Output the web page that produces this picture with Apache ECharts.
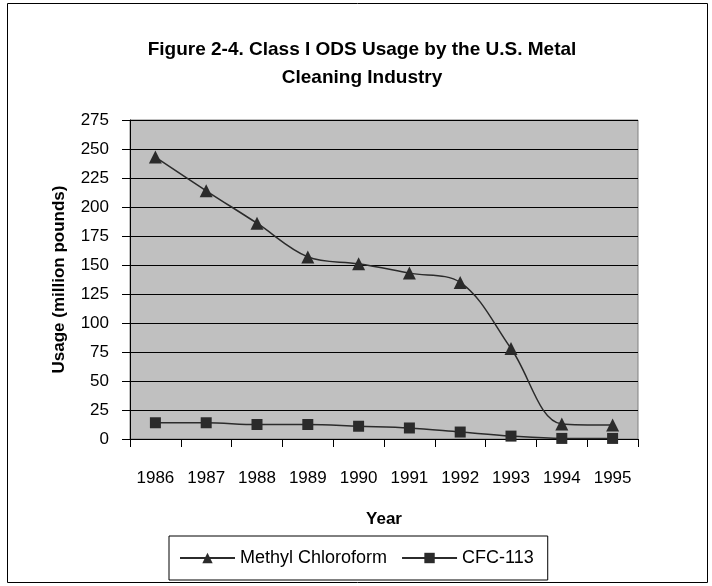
<!DOCTYPE html>
<html>
<head>
<meta charset="utf-8">
<script src="https://cdn.jsdelivr.net/npm/echarts@6/dist/echarts.min.js"></script>
<style>
  html, body { margin: 0; padding: 0; background: #fff; }
  #chart { width: 712px; height: 586px; }
</style>
</head>
<body>
<div id="chart"></div>
<script>
// values
const years = ['1986', '1987', '1988', '1989', '1990', '1991', '1992', '1993', '1994', '1995'];
const methylChloroform = [243, 214, 186, 157, 151, 143, 135, 78, 13, 12];
const cfc113 = [14, 14, 12.5, 12.5, 11, 9.5, 6, 2.5, 0.5, 0.5];
const yTicks = [0, 25, 50, 75, 100, 125, 150, 175, 200, 225, 250, 275];

const font = '"Liberation Sans", Arial, sans-serif';
const ink = '#2b2b2b';

const myChart = echarts.init(document.getElementById('chart'));

const option = {
  backgroundColor: '#fff',
  animation: false,
  graphic: [{
    type: 'rect',
    shape: { x: 7.5, y: 3.5, width: 700, height: 579 },
    style: { fill: 'none', stroke: '#000', lineWidth: 1 },
    silent: true
  }],
  title: {
    text: 'Figure 2-4. Class I ODS Usage by the U.S. Metal\nCleaning Industry',
    left: 357,
    top: 31,
    textAlign: 'center',
    textStyle: { fontFamily: font, fontSize: 19, fontWeight: 'bold', color: '#000', lineHeight: 28 }
  },
  legend: {
    bottom: 6,
    left: 169,
    itemWidth: 55,
    itemHeight: 13,
    itemGap: 14,
    padding: [13, 14, 13, 10],
    borderColor: '#000',
    borderWidth: 1,
    textStyle: { fontFamily: font, fontSize: 18, color: '#000' },
    data: ['Methyl Chloroform', 'CFC-113']
  },
  grid: { left: 130, right: 74, top: 120, bottom: 147, show: true, backgroundColor: '#c0c0c0', borderColor: '#808080', borderWidth: 1 },
  xAxis: {
    type: 'category',
    data: years,
    boundaryGap: true,
    name: 'Year',
    nameLocation: 'middle',
    nameGap: 72,
    nameTextStyle: { fontFamily: font, fontSize: 17, fontWeight: 'bold', color: '#000' },
    axisLine: { lineStyle: { color: '#000', width: 1 } },
    axisTick: { show: true, length: 8, lineStyle: { color: '#000' } },
    axisLabel: { fontFamily: font, fontSize: 17, color: '#000', margin: 31, interval: 0 }
  },
  yAxis: {
    type: 'value',
    min: yTicks[0],
    max: yTicks[yTicks.length - 1],
    interval: 25,
    name: 'Usage (million pounds)',
    nameLocation: 'middle',
    nameRotate: 90,
    nameGap: 62,
    nameTextStyle: { fontFamily: font, fontSize: 17, fontWeight: 'bold', color: '#000' },
    axisLine: { show: true, lineStyle: { color: '#000', width: 1 } },
    axisTick: { show: true, length: 8, lineStyle: { color: '#000' } },
    axisLabel: { fontFamily: font, fontSize: 17, color: '#000', margin: 21 },
    splitLine: { lineStyle: { color: '#000', width: 1 } }
  },
  series: [
    {
      name: 'Methyl Chloroform',
      type: 'line',
      data: methylChloroform,
      smooth: 0.35,
      symbol: 'triangle',
      symbolSize: 13,
      itemStyle: { color: ink },
      lineStyle: { color: ink, width: 1.5 }
    },
    {
      name: 'CFC-113',
      type: 'line',
      data: cfc113,
      smooth: 0.35,
      symbol: 'rect',
      symbolSize: 11,
      itemStyle: { color: ink },
      lineStyle: { color: ink, width: 1.5 }
    }
  ]
};

myChart.setOption(option);
</script>
</body>
</html>
